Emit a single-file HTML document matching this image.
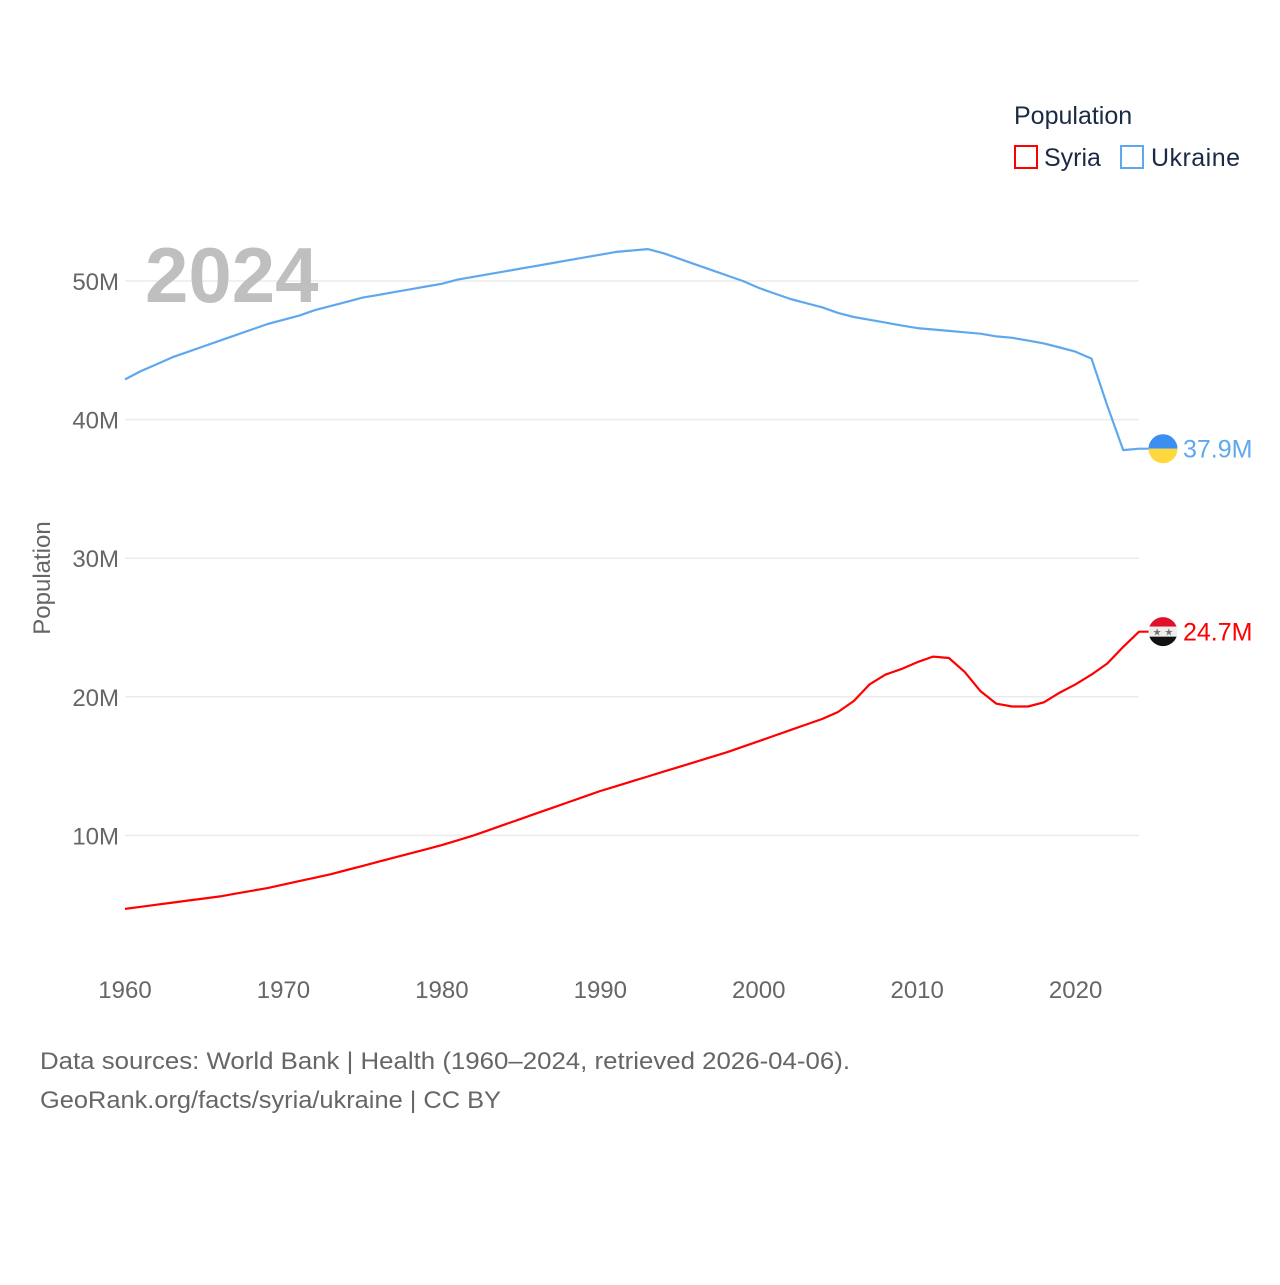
<!DOCTYPE html>
<html><head><meta charset="utf-8"><style>
body{margin:0;background:#fff;font-family:"Liberation Sans",sans-serif}
svg text{font-family:"Liberation Sans",sans-serif}
</style></head><body>
<svg id="chart" width="1280" height="1280" xmlns="http://www.w3.org/2000/svg">
<g id="grid"></g>
<g id="yticks"></g>
<g id="xticks"></g>
<text x="145" y="302" font-size="78" font-weight="bold" fill="#bfbfbf">2024</text>
<text transform="translate(50,578) rotate(-90)" text-anchor="middle" font-size="24" fill="#666">Population</text>
<g id="series"></g>
<g>
<text x="1014" y="124" font-size="25" fill="#1a2a44">Population</text>
<rect x="1015" y="146" width="22" height="22" fill="none" stroke="#f00" stroke-width="2"/>
<text x="1044" y="166" font-size="25" fill="#1a2a44">Syria</text>
<rect x="1121" y="146" width="22" height="22" fill="none" stroke="#5fa8ee" stroke-width="2"/>
<text x="1151" y="166" font-size="25" fill="#1a2a44" textLength="89">Ukraine</text>
</g>
<text x="40" y="1069" font-size="24" fill="#666" textLength="810" lengthAdjust="spacingAndGlyphs">Data sources: World Bank | Health (1960–2024, retrieved 2026-04-06).</text>
<text x="40" y="1108" font-size="24" fill="#666" textLength="461" lengthAdjust="spacingAndGlyphs">GeoRank.org/facts/syria/ukraine | CC BY</text>
</svg>
<script>
const startYear = 1960;
const ukraine = [42.9,43.5,44.0,44.5,44.9,45.3,45.7,46.1,46.5,46.9,47.2,47.5,47.9,48.2,48.5,48.8,49.0,49.2,49.4,49.6,49.8,50.1,50.3,50.5,50.7,50.9,51.1,51.3,51.5,51.7,51.9,52.1,52.2,52.3,52.0,51.6,51.2,50.8,50.4,50.0,49.5,49.1,48.7,48.4,48.1,47.7,47.4,47.2,47.0,46.8,46.6,46.5,46.4,46.3,46.2,46.0,45.9,45.7,45.5,45.2,44.9,44.4,41.0,37.8,37.9];
const syria = [4.7,4.85,5.0,5.15,5.3,5.45,5.6,5.8,6.0,6.2,6.45,6.7,6.95,7.2,7.5,7.8,8.1,8.4,8.7,9.0,9.3,9.65,10.0,10.4,10.8,11.2,11.6,12.0,12.4,12.8,13.2,13.55,13.9,14.25,14.6,14.95,15.3,15.65,16.0,16.4,16.8,17.2,17.6,18.0,18.4,18.9,19.7,20.9,21.6,22.0,22.5,22.9,22.8,21.8,20.4,19.5,19.3,19.3,19.6,20.3,20.9,21.6,22.4,23.6,24.7];
const yTicks = [10,20,30,40,50];
const yTickLabels = ["10M","20M","30M","40M","50M"];
const xTicks = [1960,1970,1980,1990,2000,2010,2020];
const ns="http://www.w3.org/2000/svg";
const xs = yr => 125 + (yr-1960)*(1139-125)/64;
const ys = v => 974 - v*13.86;
function mk(tag, attrs, parent){const e=document.createElementNS(ns,tag);for(const k in attrs)e.setAttribute(k,attrs[k]);parent.appendChild(e);return e;}
const grid=document.getElementById('grid'), yt=document.getElementById('yticks'), xt=document.getElementById('xticks'), ser=document.getElementById('series');
yTicks.forEach((v,i)=>{
  const l=mk('line',{x1:125,x2:1139,y1:ys(v),y2:ys(v),stroke:'#ebebeb','stroke-width':1.5},grid);
  
  
  const t=mk('text',{x:119,y:ys(v)+9,'text-anchor':'end','font-size':24,fill:'#666'},yt);
  t.textContent=yTickLabels[i];
  
  
});
xTicks.forEach(yr=>{
  const t=mk('text',{x:xs(yr),y:998,'text-anchor':'middle','font-size':24,fill:'#666'},xt);
  t.textContent=yr;
  
  
});
function drawLine(vals,color,name,label){
  const pts=vals.map((v,i)=>xs(startYear+i).toFixed(1)+','+ys(v).toFixed(1));
  const last=vals[vals.length-1];
  pts.push((xs(startYear+vals.length-1)+10)+','+ys(last).toFixed(1));
  const p=mk('polyline',{points:pts.join(' '),fill:'none',stroke:color,'stroke-width':2.2,'stroke-linejoin':'round'},ser);
  
  
  const cy=ys(last), cx=1163;
  const g=mk('g',{},ser);
  
  
  const cp=mk('clipPath',{id:'c'+name},g);
  mk('circle',{cx:cx,cy:cy,r:14.5},cp);
  const gg=mk('g',{'clip-path':'url(#c'+name+')'},g);
  if(name==='ukraine'){
    mk('rect',{x:cx-15,y:cy-15,width:30,height:15,fill:'#3a8ff0'},gg);
    mk('rect',{x:cx-15,y:cy,width:30,height:15,fill:'#ffd83d'},gg);
  } else {
    mk('rect',{x:cx-15,y:cy-15,width:30,height:10,fill:'#e0102a'},gg);
    mk('rect',{x:cx-15,y:cy-5,width:30,height:10,fill:'#eee'},gg);
    mk('rect',{x:cx-15,y:cy+5,width:30,height:10,fill:'#111'},gg);
    const s=mk('text',{x:cx,y:cy+4,'text-anchor':'middle','font-size':10,fill:'#777'},gg);
    s.textContent='★ ★';
  }
  const t=mk('text',{x:1183,y:cy+9,'font-size':25,fill:color},ser);
  t.textContent=label;
  
  
}
drawLine(ukraine,'#5fa8ee','ukraine',ukraine[ukraine.length-1].toFixed(1)+'M');
drawLine(syria,'#ff0000','syria',syria[syria.length-1].toFixed(1)+'M');
</script>
</body></html>
